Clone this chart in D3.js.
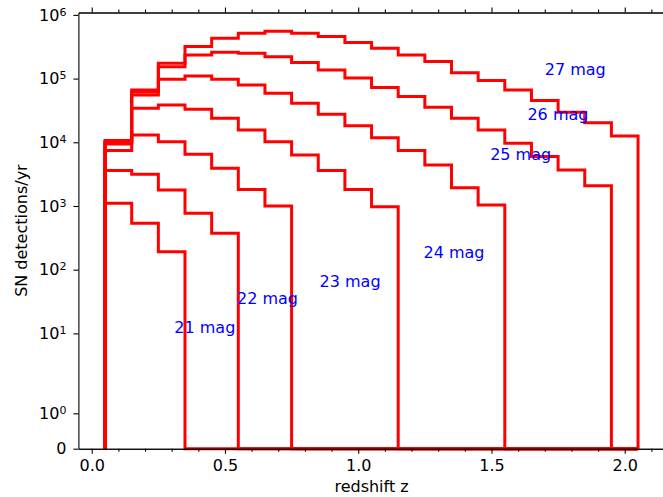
<!DOCTYPE html>
<html>
<head>
<meta charset="utf-8">
<script src="https://cdn.jsdelivr.net/npm/d3@7"></script>
<style>
  body { margin: 0; background: #fff; }
  svg { display: block; }
  text { font-family: "DejaVu Sans", sans-serif; }
</style>
</head>
<body>
<svg id="chart" width="663" height="497"></svg>
<script>
// Redshift bin centres (bin width 0.1)
const zCenters = [0.1, 0.2, 0.3, 0.4, 0.5, 0.6, 0.7, 0.8, 0.9, 1.0,
                  1.1, 1.2, 1.3, 1.4, 1.5, 1.6, 1.7, 1.8, 1.9, 2.0];
const binWidth = 0.1;

// Limiting magnitudes and the SN detections per year in each bin
const magLabels = ["21 mag", "22 mag", "23 mag", "24 mag", "25 mag", "26 mag", "27 mag"];
const mag21 = [1100, 536, 192, 0, 0, 0, 0, 0, 0, 0, 0, 0, 0, 0, 0, 0, 0, 0, 0, 0];
const mag22 = [3610, 3150, 1790, 769, 373, 0, 0, 0, 0, 0, 0, 0, 0, 0, 0, 0, 0, 0, 0, 0];
const mag23 = [7450, 13000, 10200, 6490, 3910, 1820, 1000, 0, 0, 0, 0, 0, 0, 0, 0, 0, 0, 0, 0, 0];
const mag24 = [9420, 34300, 38500, 33000, 23900, 15600, 10200, 6320, 3610, 1820, 977,
               0, 0, 0, 0, 0, 0, 0, 0, 0];
const mag25 = [9950, 55400, 97700, 110000, 97700, 79400, 58900, 41000, 27500, 18200, 11800,
               7450, 4410, 1940, 1040, 0, 0, 0, 0, 0];
const mag26 = [10300, 61700, 154000, 235000, 259000, 250000, 221000, 179000, 137000, 102000,
               72600, 52100, 35500, 23900, 15600, 9660, 5960, 3680, 2070, 0];
const mag27 = [10700, 66400, 174000, 318000, 430000, 515000, 555000, 515000, 459000, 370000,
               300000, 235000, 185000, 124000, 93000, 66400, 45100, 29600, 20300, 12600];
const seriesList = [mag21, mag22, mag23, mag24, mag25, mag26, mag27];

// Annotation anchors (redshift, detections) for each magnitude label
const labelZ = [0.31, 0.545, 0.855, 1.245, 1.495, 1.635, 1.70];
const labelN = [10, 29, 53, 152, 5190, 22000, 112000];

// Axis ticks
const xMajorTicks = [0.0, 0.5, 1.0, 1.5, 2.0];
const xMinorTicks = [0.1, 0.2, 0.3, 0.4, 0.6, 0.7, 0.8, 0.9, 1.1, 1.2, 1.3, 1.4,
                     1.6, 1.7, 1.8, 1.9, 2.1];
const yTicks = [0, 1, 10, 100, 1000, 10000, 100000, 1000000];
const yTickExp = ["", "0", "1", "2", "3", "4", "5", "6"];

// Plot frame
const frameLeft = 78.4, frameRight = 664.7, frameTop = 12.5, frameBottom = 448.7;

const svg = d3.select("#chart");

const x = d3.scaleLinear().domain([-0.05, 2.15]).range([frameLeft, frameRight]);

// Symmetric log transform: linear below the threshold, log10 above
const linthresh = 2, linscaleAdj = 1 / (1 - 1 / 10);
const symlog = v => v <= linthresh ? v * linscaleAdj / linthresh
                                   : linscaleAdj + Math.log10(v / linthresh);
const yLin = d3.scaleLinear().domain([0, symlog(1.09e6)]).range([frameBottom, frameTop]);
const y = v => yLin(symlog(v));

// Step outlines
const line = d3.line().x(d => x(d[0])).y(d => y(d[1]));
seriesList.forEach(vals => {
  const pts = [[zCenters[0] - binWidth / 2, 0]];
  vals.forEach((v, i) => {
    pts.push([zCenters[i] - binWidth / 2, v]);
    pts.push([zCenters[i] + binWidth / 2, v]);
  });
  pts.push([zCenters[zCenters.length - 1] + binWidth / 2, 0]);
  svg.append("path")
    .attr("d", line(pts))
    .attr("fill", "none")
    .attr("stroke", "#ff0000")
    .attr("stroke-width", 3)
    .attr("stroke-linejoin", "miter");
});

// Magnitude labels
svg.append("g").selectAll("text")
  .data(magLabels)
  .join("text")
  .attr("x", (d, i) => x(labelZ[i]))
  .attr("y", (d, i) => y(labelN[i]))
  .attr("fill", "#0000ff")
  .attr("font-size", 16)
  .text(d => d);

// Axes
const tickFont = 16;
const styleAxis = g => {
  g.selectAll(".domain").attr("stroke", "#000").attr("stroke-width", 1.1);
  g.selectAll(".tick line").attr("stroke", "#000").attr("stroke-width", 1.1);
  g.selectAll(".tick text").attr("fill", "#000").attr("font-size", tickFont)
    .attr("font-family", "DejaVu Sans");
};

svg.append("g")
  .attr("transform", `translate(0,${frameBottom})`)
  .call(d3.axisBottom(x).tickValues(xMinorTicks).tickSize(3)
        .tickSizeOuter(0).tickFormat(""))
  .call(styleAxis);
svg.append("g")
  .attr("transform", `translate(0,${frameBottom})`)
  .call(d3.axisBottom(x).tickValues(xMajorTicks).tickSize(5).tickSizeOuter(0)
        .tickPadding(6).tickFormat(d3.format(".1f")))
  .call(styleAxis);

svg.append("g")
  .attr("transform", `translate(0,${frameTop})`)
  .call(d3.axisTop(x).tickValues(xMinorTicks).tickSize(3)
        .tickSizeOuter(0).tickFormat(""))
  .call(styleAxis);
svg.append("g")
  .attr("transform", `translate(0,${frameTop})`)
  .call(d3.axisTop(x).tickValues(xMajorTicks).tickSize(5).tickSizeOuter(0).tickFormat(""))
  .call(styleAxis);

const yAxis = svg.append("g")
  .attr("transform", `translate(${frameLeft},0)`)
  .call(d3.axisLeft(yLin).tickValues(yTicks.map(symlog)).tickSize(5).tickSizeOuter(0)
        .tickPadding(7).tickFormat(""))
  .call(styleAxis);

// Power-of-ten labels with superscript exponents
yAxis.selectAll(".tick text").each(function(d, i) {
  const t = d3.select(this);
  t.attr("dy", "0.32em");
  if (yTicks[i] === 0) {
    t.text("0");
  } else {
    t.append("tspan").text("10");
    t.append("tspan").attr("dy", "-0.45em").attr("font-size", 11).text(yTickExp[i]);
  }
});

// Axis titles
svg.append("text")
  .attr("x", (frameLeft + frameRight) / 2)
  .attr("y", 492)
  .attr("text-anchor", "middle")
  .attr("font-size", 16)
  .attr("fill", "#000")
  .text("redshift z");

svg.append("text")
  .attr("transform", `translate(27,${(frameTop + frameBottom) / 2}) rotate(-90)`)
  .attr("text-anchor", "middle")
  .attr("font-size", 16)
  .attr("fill", "#000")
  .text("SN detections/yr");
</script>
</body>
</html>
